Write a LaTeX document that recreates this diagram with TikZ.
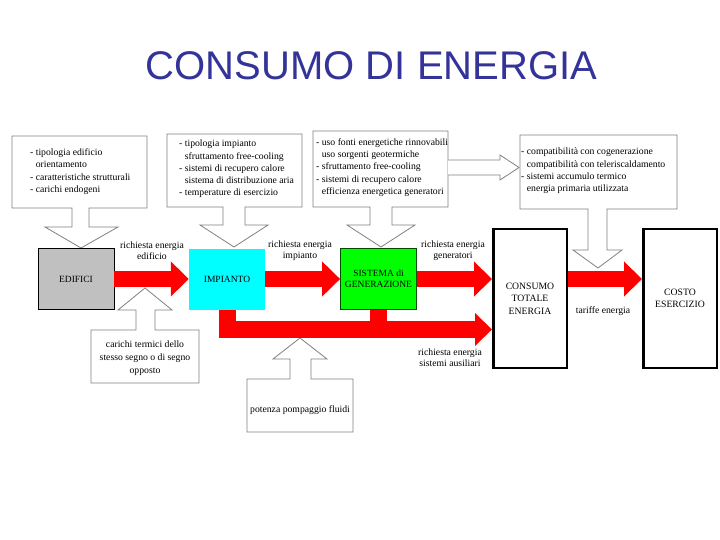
\documentclass[tikz,border=0pt]{standalone}
\usepackage{fontspec}
\setmainfont{Liberation Serif}
\newfontfamily\titlefont{Liberation Sans}
\usetikzlibrary{arrows.meta}
\definecolor{titleblue}{RGB}{51,51,153}
\definecolor{callgray}{RGB}{128,128,128}
\definecolor{boxgray}{RGB}{192,192,192}
\definecolor{pured}{RGB}{255,0,0}
\definecolor{purecyan}{RGB}{0,255,255}
\definecolor{puregreen}{RGB}{0,255,0}
\tikzset{
 callout/.style={draw=callgray, fill=white, line width=0.8pt},
 calltext/.style={font=\fontsize{9.7}{12.3}\selectfont, align=left, inner sep=0pt, anchor=west},
 ctext/.style={font=\fontsize{9.7}{13}\selectfont, align=center, inner sep=0pt},
 lbl/.style={font=\fontsize{9.7}{11}\selectfont, align=center, inner sep=0pt},
 block/.style={minimum width=76pt, minimum height=61pt, inner sep=0pt, align=center, font=\fontsize{9.5}{10.5}\selectfont},
 tallblock/.style={draw=black, line width=2.5pt, fill=white, minimum width=73.5pt, minimum height=138.5pt, inner sep=0pt, align=center, font=\fontsize{9.7}{12.5}\selectfont},
 flow/.style={draw=pured, line width=16pt, -{Triangle[width=34pt,length=18pt]}},
 lowflow/.style={draw=pured, line width=17pt, line join=miter, -{Triangle[width=32pt,length=17pt]}},
}
\begin{document}
\begin{tikzpicture}[x=1pt,y=-1pt]
\useasboundingbox (0,0) rectangle (720,540);

% title
\node[anchor=base, inner sep=0pt, font=\titlefont\fontsize{40}{40}\selectfont, text=titleblue] (title) at (371.5,80) {CONSUMO DI ENERGIA};

% callouts (top)
\draw[callout] (12,136) -- (147,136) -- (147,208) -- (89,208) -- (89,227) -- (118,227) -- (81,248) -- (45,227) -- (72,227) -- (72,208) -- (12,208) -- cycle;
\draw[callout] (167,134) -- (302,134) -- (302,207) -- (245,207) -- (245,225) -- (268,225) -- (234,247) -- (200,225) -- (223,225) -- (223,207) -- (167,207) -- cycle;
\draw[callout] (313,131) -- (448,131) -- (448,207) -- (392,207) -- (392,225) -- (415,225) -- (381,247) -- (347,225) -- (370,225) -- (370,207) -- (313,207) -- cycle;
\draw[callout] (520,135) -- (677,135) -- (677,209) -- (607,209) -- (607,250) -- (622,250) -- (598,268) -- (573,250) -- (588,250) -- (588,209) -- (520,209) -- cycle;
% block arrow from box 3 to box 4
\draw[callout] (448,160) -- (500,160) -- (500,155) -- (519,167.5) -- (500,180) -- (500,175) -- (448,175);

% callouts (bottom)
\draw[callout] (91,330) -- (136,330) -- (136,310) -- (118,310) -- (145,288) -- (172,310) -- (155,310) -- (155,330) -- (199,330) -- (199,383) -- (91,383) -- cycle;
\draw[callout] (247,379) -- (290,379) -- (290,359) -- (273,359) -- (300,338) -- (327,359) -- (311,359) -- (311,379) -- (353,379) -- (353,432) -- (247,432) -- cycle;

% callout texts
\node[calltext] (t1) at (30,171.5) {- tipologia edificio\\\hphantom{- }orientamento\\- caratteristiche strutturali\\- carichi endogeni};
\node[calltext] (t2) at (179,169) {- tipologia impianto\\\hphantom{- }sfruttamento free-cooling\\- sistemi di recupero calore\\\hphantom{- }sistema di distribuzione aria\\- temperature di esercizio};
\node[calltext] (t3) at (316,167.5) {- uso fonti energetiche rinnovabili\\\hphantom{- }uso sorgenti geotermiche\\- sfruttamento free-cooling\\- sistemi di recupero calore\\\hphantom{- }efficienza energetica generatori};
\node[calltext] (t4) at (521,171) {- compatibilità con cogenerazione\\\hphantom{- }compatibilità con teleriscaldamento\\- sistemi accumulo termico\\\hphantom{- }energia primaria utilizzata};
\node[ctext] (t5) at (145,358) {carichi termici dello\\stesso segno o di segno\\opposto};
\node[ctext] (t6) at (300,410) {potenza pompaggio fluidi};

% blocks
\node[block, fill=boxgray, draw=black, line width=0.8pt] (edif) at (76,279) {EDIFICI};
\node[block, fill=purecyan] (impi) at (227,279.5) {IMPIANTO};
\node[block, fill=puregreen, draw=black!70!green, line width=0.8pt] (sist) at (378.5,279) {SISTEMA di\\GENERAZIONE};
\node[tallblock] (cons) at (530,298.5) {CONSUMO\\TOTALE\\ENERGIA};
\node[tallblock] (costo) at (680,298.5) {COSTO\\ESERCIZIO};

% red flows
\path (cons.west) ++(0,31) coordinate (auxin);
\draw[lowflow] (impi.south) |- (auxin);
\draw[draw=pured, line width=17pt] (sist.south) -- (sist.south |- auxin);
\draw[flow] (edif.east) -- (edif.east -| impi.west);
\draw[flow] (impi.east |- edif.east) -- (sist.west);
\draw[flow] (sist.east) -- (sist.east -| cons.west);
\draw[flow] (cons.east |- sist.east) -- (costo.west |- sist.east);

% labels
\node[lbl] (l1) at (152,250.5) {richiesta energia\\edificio};
\node[lbl] (l2) at (300,250.5) {richiesta energia\\impianto};
\node[lbl] (l3) at (453,250.5) {richiesta energia\\generatori};
\node[lbl] (l4) at (603,311) {tariffe energia};
\node[lbl] (l5) at (450,358) {richiesta energia\\sistemi ausiliari};
\end{tikzpicture}
\end{document}
